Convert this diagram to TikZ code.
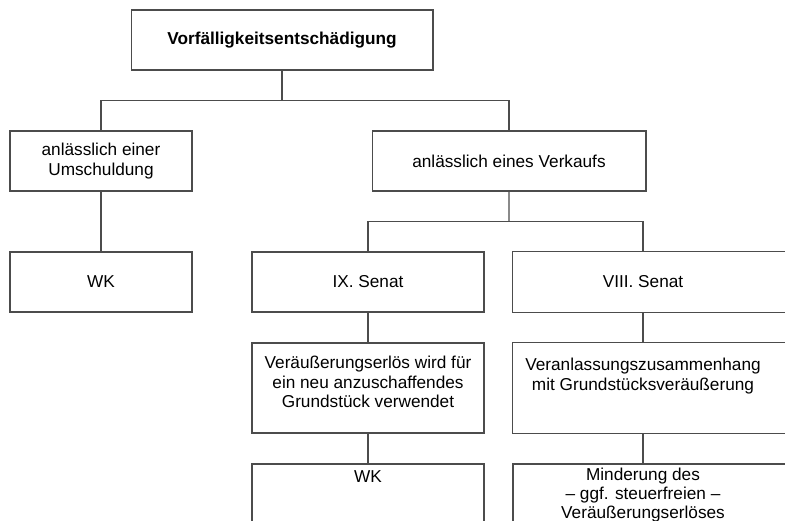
\documentclass[tikz,border=0pt]{standalone}
\usepackage{fontspec}
\setmainfont{Liberation Sans}
\usepackage{tikz}
\usetikzlibrary{positioning,calc}

\tikzset{
  box/.style={draw=black!70, line width=0.6pt, align=center, inner sep=2pt,
    minimum height=1.2cm, font=\fontsize{9.8}{11}\selectfont},
  cutbox/.style={align=center, inner sep=2pt, minimum height=1.2cm,
    font=\fontsize{9.8}{11}\selectfont},
  txt/.style={align=center, inner sep=0pt, font=\fontsize{9.8}{11}\selectfont},
  frame/.style={draw=black!70, line width=0.6pt},
  conn/.style={draw=black!70, line width=0.6pt}
}

\begin{document}
\begin{tikzpicture}[x=0.02cm,y=-0.02cm]
\useasboundingbox (0,0) rectangle (785,521);
\clip (0,0) rectangle (785,521);

% Top box
\node[box, minimum width=6.04cm, font=\fontsize{9.8}{11}\selectfont\bfseries] (vfe) at (282,40) {Vorfälligkeitsentschädigung};

% First level
\node[box, minimum width=3.64cm] (umsch) at (101,161) {anlässlich einer\\Umschuldung};
\node[box, minimum width=5.48cm] (verkauf) at (509,161) {anlässlich eines Verkaufs};

% Left branch result
\node[box, minimum width=3.64cm] (wk1) at (101,282) {WK};

% Senates
\node[box, minimum width=4.64cm] (ix) at (368,282) {IX. Senat};
\node[cutbox, minimum width=5.2cm] (viii) at (643,282) {VIII. Senat};
\draw[frame] (viii.north west) rectangle ($(viii.south east)+(40,0)$);

% Second row: frames, text set a little above centre
\node[box, minimum width=4.64cm, minimum height=1.8cm] (veraeu) at (368,388) {};
\node[txt] (veraeutxt) at ($(veraeu.center)+(0,-6)$) {Veräußerungserlös wird für\\ein neu anzuschaffendes\\Grundstück verwendet};
\node[cutbox, minimum width=5.2cm, minimum height=1.8cm] (veranl) at (643,388) {};
\draw[frame] (veranl.north west) rectangle ($(veranl.south east)+(40,0)$);
\node[txt] (veranltxt) at ($(veranl.center)+(0,-12)$) {Veranlassungszusammenhang\\mit Grundstücksveräußerung};

% Third row (cut off at the bottom)
\coordinate (wk2top) at (368,464);
\coordinate (mindtop) at (643,464);
\draw[frame] ($(wk2top)+(-116,0)$) rectangle ($(wk2top)+(116,100)$);
\draw[frame] ($(mindtop)+(-130,0)$) rectangle ($(mindtop)+(170,100)$);
\node[txt] (wk2) at (368,477) {WK};
\node[txt] (minder) at (643,495) {Minderung des\\– ggf. steuerfreien –\\Veräußerungserlöses};

% Connectors
\coordinate (bus1) at ($(vfe.south)!.5!(vfe.south |- umsch.north)$);
\draw[conn] (vfe.south) -- (bus1);
\draw[conn] (umsch.north) |- (bus1) -| (verkauf.north);
\draw[conn] (umsch.south) -- (wk1.north);

\coordinate (bus2) at ($(verkauf.south)!.5!(verkauf.south |- ix.north)$);
\draw[conn] (verkauf.south) -- (bus2);
\draw[conn] (ix.north) |- (bus2) -| (viii.north);
\draw[conn] (ix.south) -- (veraeu.north);
\draw[conn] (viii.south) -- (veranl.north);
\draw[conn] (veraeu.south) -- (wk2top);
\draw[conn] (veranl.south) -- (mindtop);
\end{tikzpicture}
\end{document}
